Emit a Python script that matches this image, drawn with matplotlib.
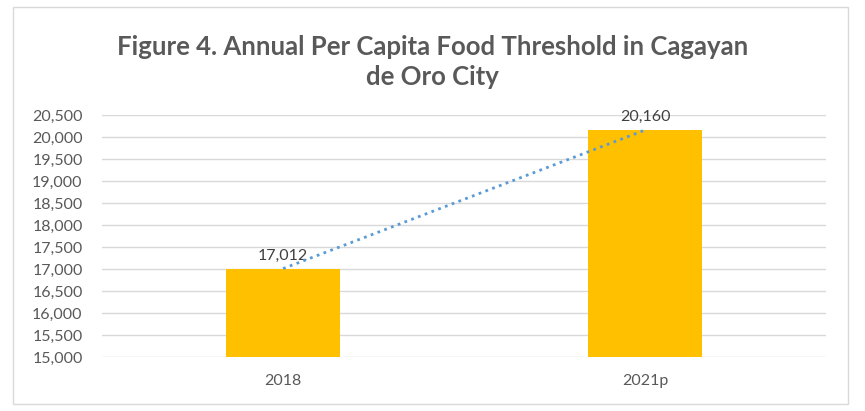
import numpy as np
import matplotlib.pyplot as plt
from matplotlib.patches import Rectangle

years = ['2018', '2021p']
threshold = [17012, 20160]

plt.rcParams['font.family'] = ['Lato', 'DejaVu Sans']
grey = '#595959'

fig = plt.figure(figsize=(8.65, 4.11), dpi=100)
ax = fig.add_axes([0.118, 0.131, 0.837, 0.589])

x = np.arange(len(years))
ax.bar(x, threshold, width=0.315, color='#FFC000', zorder=3)
# linear trendline through the two points
ax.plot(x, threshold, linestyle=(0, (1, 1.6)), color='#5B9BD5', lw=2.0, zorder=4)

for xi, v in zip(x, threshold):
    ax.text(xi, v + 140, f'{v:,}', ha='center', va='bottom', fontsize=11.5, color='#404040')

ax.set_xlim(-0.5, 1.5)
ax.set_ylim(15000, 20500)
ax.set_yticks(np.arange(15000, 20501, 500))
ax.set_yticklabels([f'{t:,}' for t in range(15000, 20501, 500)])
ax.set_xticks(x)
ax.set_xticklabels(years)
ax.tick_params(axis='both', length=0, labelsize=11.5, labelcolor=grey)
ax.tick_params(axis='x', pad=12)
ax.tick_params(axis='y', pad=14)
ax.grid(axis='y', color='#D9D9D9', lw=1.0, zorder=0)
for s in ax.spines.values():
    s.set_visible(False)

fig.text(0.5, 0.886, 'Figure 4. Annual Per Capita Food Threshold in Cagayan',
         ha='center', va='center', fontsize=18.5, fontweight='bold', color=grey)
fig.text(0.5, 0.813, 'de Oro City',
         ha='center', va='center', fontsize=18.5, fontweight='bold', color=grey)

fig.patches.append(Rectangle((0.015, 0.017), 0.965, 0.965, transform=fig.transFigure,
                             fill=False, edgecolor='#D9D9D9', lw=1.0))

fig.savefig('out.png', dpi=100)
